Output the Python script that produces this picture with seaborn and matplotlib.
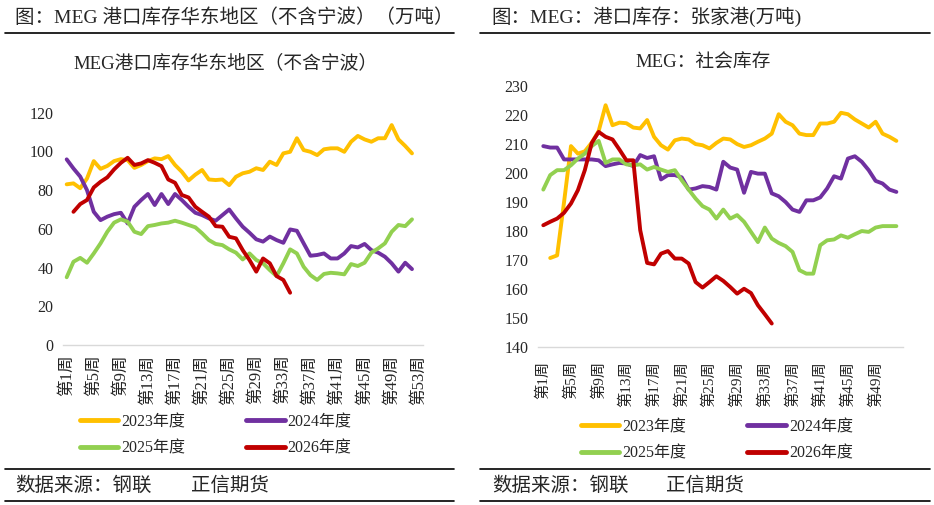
import numpy as np
import pandas as pd
import matplotlib
matplotlib.use('Agg')
import matplotlib.pyplot as plt
import seaborn as sns
from matplotlib.lines import Line2D

years = ['2023年度', '2024年度', '2025年度', '2026年度']
colors = ['#FFC000', '#7030A0', '#92D050', '#C00000']

# 左图：MEG港口库存华东地区（不含宁波），万吨，按周
east_weeks = list(range(1, 54))
east_2023 = [83, 83.5, 81, 86, 95, 91, 92.5, 95, 96, 95.5, 91.5, 93, 95, 96.4, 96, 97.6, 93,
             89.5, 85, 88, 90.4, 85.5, 85.2, 85.5, 82.6, 86.9, 88.7, 89.5, 91.3, 90.4, 94.7, 93,
             99, 99.8, 106.8, 100.7, 99.8, 98.1, 101.1, 101.6, 101.6, 99.8, 105, 108, 106.2, 105,
             106.8, 106.8, 113.6, 106.2, 102.8, 99]
east_2024 = [95.9, 91.2, 87, 80, 68.8, 64.5, 66.3, 67.6, 68.3, 62.8, 71.4, 74.9, 78, 72.3, 78,
             72.8, 78, 74.9, 71.4, 68.3, 67.1, 65.4, 64.2, 67.1, 70, 65.4, 61.1, 58, 54.6, 53.4,
             56, 54.2, 52.8, 59.7, 59, 52.5, 46.1, 46.5, 47.3, 44.7, 44.7, 47.3, 51.1, 50.4, 52.2,
             49, 47.7, 45.6, 42.2, 37.9, 42.5, 39.2]
east_2025 = [35, 43, 45, 42.5, 47.3, 52.5, 58.5, 63.2, 64.9, 63.7, 58.5, 57.3, 61.4, 62, 62.8,
             63.2, 64.2, 63.2, 62, 60.8, 57.7, 54.2, 52.2, 51.6, 49.4, 47.7, 44.2, 47.3, 43.9,
             42.2, 38.7, 35.6, 42.2, 49.4, 47.3, 40.4, 36.1, 33.6, 36.7, 37.3, 37, 36.5, 41.8,
             40.8, 42.5, 47.7, 49.9, 52.5, 58.5, 62, 61.4, 64.9]
east_2026 = [np.nan, 68.8, 72.8, 74.9, 81.4, 84.3, 86.6, 90.7, 94.1, 96.7, 93, 93.8, 95.5, 94.1,
             92.4, 85.5, 83.8, 77.5, 76.2, 71.4, 68.8, 66.3, 61.4, 61.1, 55.9, 55.1, 49, 43.9,
             37.9, 44.7, 42.2, 35.6, 33.6, 27]

# 右图：MEG社会库存（张家港），万吨，按周
zjg_weeks = list(range(1, 53))
zjg_2023 = [np.nan, 170.7, 171.6, 190, 209.3, 206.7, 207.5, 210.5, 214.5, 223.4, 216.5, 217.4,
            217.2, 215.7, 215.4, 218.3, 212.5, 209.6, 208.1, 211.3, 211.9, 211.6, 210, 209.6,
            208.5, 210.4, 211.9, 211.6, 210, 209, 209.6, 210.8, 211.9, 213.6, 220.3, 217.7,
            216.5, 213.6, 213.1, 213.1, 217.1, 217.1, 217.7, 220.8, 220.3, 218.5, 217.1, 215.7,
            217.7, 213.6, 212.5, 211.1]
zjg_2024 = [209.3, 208.8, 208.8, 204.7, 204.7, 204.7, 204.7, 204.7, 204.4, 202.4, 203, 203.5,
            203.3, 202.4, 206.2, 205.2, 205.8, 197.8, 199.3, 199.3, 198.5, 194.3, 194.7, 195.5,
            195.2, 194.3, 203.9, 201.9, 201.2, 193.2, 200.4, 199.8, 199.8, 193, 192, 190, 187.4,
            186.6, 190.6, 190.6, 191.6, 194.7, 198.9, 198.1, 205, 205.8, 203.9, 201, 197.3,
            196.4, 194.3, 193.5]
zjg_2025 = [194.3, 199.3, 201, 201, 202.7, 205, 206.7, 209.3, 211.1, 203.5, 204.7, 204.7, 203,
            202.7, 203, 201.2, 202.1, 201.2, 200.4, 201, 197.5, 194.3, 191.2, 188.6, 187.4,
            184.3, 187.4, 184.3, 185.5, 183.2, 179.7, 176.2, 181.2, 177.4, 175.9, 174.8, 172.8,
            166.5, 165.3, 165.3, 175.1, 176.8, 177.1, 178.5, 177.7, 178.9, 180, 179.7, 181.2,
            181.7, 181.7, 181.7]
zjg_2026 = [182, 183.2, 184.3, 186.3, 189.5, 194.1, 201, 210.4, 214.2, 212.5, 211.6, 208.1,
            204.4, 204.4, 180.3, 169, 168.5, 172.2, 173.1, 170.5, 170.5, 168.8, 162.4, 160.5,
            162.4, 164.4, 162.8, 160.7, 158.4, 160.1, 158.6, 154.4, 151.3, 148.1]


def to_long(weeks, series):
    rows = []
    for year, vals in zip(years, series):
        for w, v in zip(weeks, vals):
            rows.append({'week': w, 'value': v, 'year': year})
    return pd.DataFrame(rows).dropna()


df_east = to_long(east_weeks, [east_2023, east_2024, east_2025, east_2026])
df_zjg = to_long(zjg_weeks, [zjg_2023, zjg_2024, zjg_2025, zjg_2026])

sns.set_style('white')
plt.rcParams['font.family'] = ['Liberation Serif', 'Noto Sans CJK SC']

W, H = 934, 505
fig = plt.figure(figsize=(W / 100, H / 100), dpi=100)

ax1 = fig.add_axes([63.3 / W, 1 - 345 / H, 360 / W, (345 - 112.7) / H])
ax2 = fig.add_axes([538.3 / W, 1 - 347 / H, 365 / W, (347 - 86.1) / H])

palette = dict(zip(years, colors))

for ax, df, weeks, yt, ylim, xlim, lab_fs, xpad, title, tx, leg_xy in [
    (ax1, df_east, east_weeks, range(0, 121, 20), (0, 120), (0.5, 53.67), 12, 7,
     'MEG港口库存华东地区（不含宁波）', 226, (80, 414)),
    (ax2, df_zjg, zjg_weeks, range(140, 231, 10), (140, 230), (0.28, 53.0), 11, 10,
     'MEG：社会库存', 703, (581, 419)),
]:
    sns.lineplot(data=df, x='week', y='value', hue='year', palette=palette,
                 linewidth=2.8, errorbar=None, ax=ax)
    ax.set_xlim(*xlim)
    ax.set_ylim(*ylim)
    ax.set_yticks(list(yt))
    ax.set_yticklabels([str(v) for v in yt], fontsize=11.5)
    xt = list(range(1, len(weeks) + 1, 4))
    ax.set_xticks(xt)
    ax.set_xticklabels([f'第{w}周' for w in xt], rotation=90, fontsize=lab_fs)
    ax.tick_params(axis='both', length=0)
    ax.tick_params(axis='y', pad=7)
    ax.tick_params(axis='x', pad=xpad)
    ax.set_xlabel('')
    ax.set_ylabel('')
    for s in ['top', 'right', 'left']:
        ax.spines[s].set_visible(False)
    ax.spines['bottom'].set_color('#D9D9D9')
    ax.spines['bottom'].set_linewidth(1.0)
    ax.grid(False)

    # 图例按行排列：2023 2024 / 2025 2026
    handles, labels = ax.get_legend_handles_labels()
    order = [0, 2, 1, 3]
    leg = ax.legend([handles[i] for i in order], [labels[i] for i in order], ncol=2,
                    frameon=False, fontsize=11.5, loc='upper left',
                    bbox_to_anchor=(leg_xy[0] / W, 1 - leg_xy[1] / H),
                    bbox_transform=fig.transFigure, borderpad=0, borderaxespad=0,
                    handlelength=2.4, handletextpad=0.2, columnspacing=3.8,
                    labelspacing=0.65)
    for ln in leg.get_lines():
        ln.set_linewidth(3.5)

    fig.text(tx / W, 1 - 63 / H, title, fontsize=13.5, ha='center', va='center')

# 顶部标题与底部来源
fig.text(15 / W, 1 - 17 / H, '图：MEG 港口库存华东地区（不含宁波）（万吨）', fontsize=14,
         ha='left', va='center')
fig.text(491 / W, 1 - 17 / H, '图：MEG：港口库存：张家港(万吨)', fontsize=14,
         ha='left', va='center')
for x0, x1 in [(5, 454), (480, 930)]:
    for y in [33, 469, 500.5]:
        fig.add_artist(Line2D([x0 / W, x1 / W], [1 - y / H, 1 - y / H],
                              transform=fig.transFigure, color='black', lw=1.2))
fig.text(15 / W, 1 - 486 / H, '数据来源：钢联', fontsize=14, ha='left', va='center')
fig.text(191 / W, 1 - 486 / H, '正信期货', fontsize=14, ha='left', va='center')
fig.text(492 / W, 1 - 486 / H, '数据来源：钢联', fontsize=14, ha='left', va='center')
fig.text(666 / W, 1 - 486 / H, '正信期货', fontsize=14, ha='left', va='center')

fig.savefig('out.png', dpi=100)
